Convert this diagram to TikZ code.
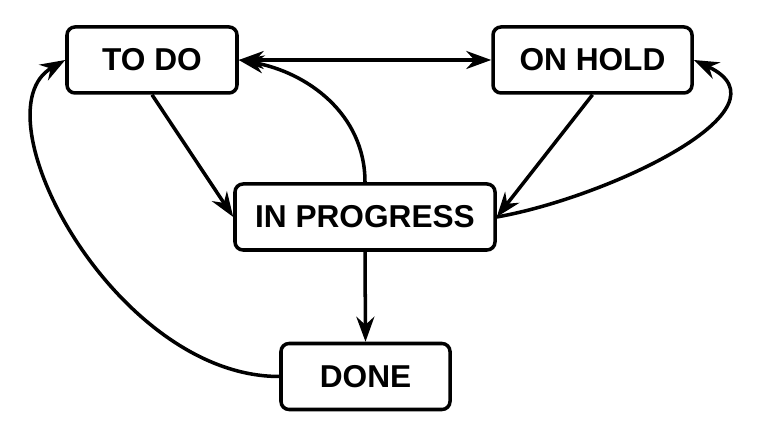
\documentclass[tikz,border=0pt]{standalone}
\usepackage{fontspec}
\setmainfont{Liberation Sans}
\usepackage{tikz}
\usetikzlibrary{positioning,arrows.meta}

\begin{document}
\begin{tikzpicture}
        % Style cho các trạng thái
        \tikzstyle{state} = [
            draw=black,
            line width=2pt,
            rounded corners=0.16cm,
            minimum height=1.32cm,
            font=\fontsize{18}{20}\selectfont\bfseries,
            inner sep=0pt
        ]
        \tikzstyle{arr} = [
            line width=2pt,
            -{Stealth[length=5mm,width=3.6mm]}
        ]
        \useasboundingbox (0,0) rectangle (15.16,8.64);

        % Các trạng thái
        \node[state, minimum width=3.4cm] at (3.04,7.44) (todo) {TO DO};
        \node[state, minimum width=3.98cm] at (11.85,7.44) (onhold) {ON HOLD};
        \node[state, minimum width=5.2cm] at (7.3,4.3) (inprog) {IN PROGRESS};
        \node[state, minimum width=3.38cm] at (7.31,1.11) (done) {DONE};

        % Các mũi tên thẳng
        \draw[line width=2pt, {Stealth[length=5mm,width=3.6mm]}-{Stealth[length=5mm,width=3.6mm]}] (todo.east) -- (onhold.west);
        \foreach \from/\to in {todo.south/inprog.west, onhold.south/inprog.east, inprog.south/done.north} {
            \draw[arr] (\from) -- (\to);
        }

        % Các mũi tên cong
        \draw[arr] (inprog.north) to[out=90, in=-10] (todo.east);
        \draw[arr] (inprog.east) to[out=10, in=-25, looseness=1.15] (onhold.east);
        \draw[arr] (done.west) to[out=180, in=210, out looseness=1.1, in looseness=0.7] (todo.west);
    \end{tikzpicture}
\end{document}
